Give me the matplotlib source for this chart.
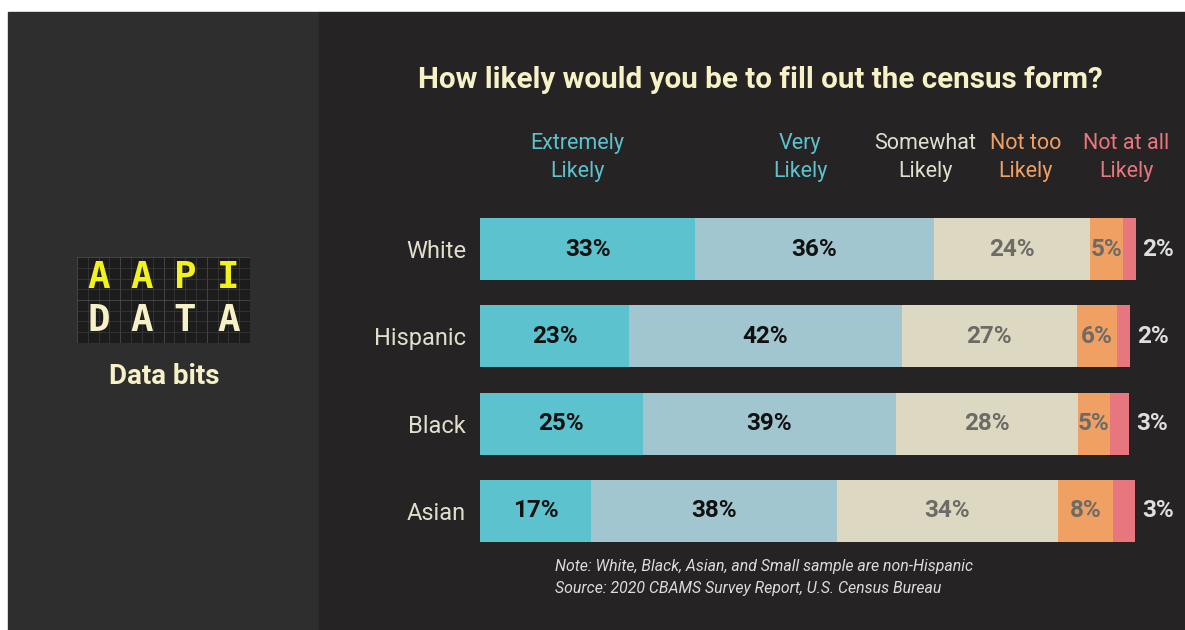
import numpy as np
import matplotlib.pyplot as plt
from matplotlib.patches import Rectangle

plt.rcParams['font.family'] = ['Roboto', 'DejaVu Sans']

groups = ['White', 'Hispanic', 'Black', 'Asian']
levels = ['Extremely\nLikely', 'Very\nLikely', 'Somewhat\nLikely', 'Not too\nLikely', 'Not at all\nLikely']
extremely = [32.8, 22.7, 24.8, 16.9]
very = [36.4, 41.6, 38.6, 37.5]
somewhat = [23.8, 26.7, 27.7, 33.7]
not_too = [5.0, 6.1, 4.9, 8.4]
not_at_all = [2.0, 2.0, 3.0, 3.4]
series = [extremely, very, somewhat, not_too, not_at_all]

colors = ['#5cc3ce', '#a2c6cf', '#ddd8c1', '#f1a064', '#e8767e']
head_colors = ['#5cc3ce', '#5cc3ce', '#e2dece', '#f1a064', '#e8767e']
lab_colors = ['#111111', '#111111', '#6d6b66', '#6d6b66', '#dedede']
head_x = [14.9, 48.8, 67.9, 83.2, 98.5]

W, H = 1185, 630
fig = plt.figure(figsize=(W / 100, H / 100), dpi=100, facecolor='white')

# background panels
fig.patches.append(Rectangle((8 / W, 0), (319 - 8) / W, 1 - 12 / H,
                             transform=fig.transFigure, color='#2f2e2f', zorder=-10))
fig.patches.append(Rectangle((319 / W, 0), 1 - 319 / W, 1 - 12 / H,
                             transform=fig.transFigure, color='#252324', zorder=-10))

# bar chart
ax = fig.add_axes([480 / W, 1 - 554.6 / H, 656 / W, 349.2 / H])
ax.set_facecolor('none')
y = np.arange(len(groups))
left = np.zeros(len(groups))
for k, vals in enumerate(series):
    vals = np.array(vals)
    ax.barh(y, vals, left=left, height=0.71, color=colors[k], linewidth=0)
    for i, v in enumerate(vals):
        if k < 4:
            ax.text(left[i] + v / 2, y[i], f'{v:.0f}%', ha='center', va='center',
                    fontsize=17.5, fontweight='bold', color=lab_colors[k])
        else:
            ax.text(left[i] + v + 1.0, y[i], f'{v:.0f}%', ha='left', va='center',
                    fontsize=17.5, fontweight='bold', color=lab_colors[k])
    left += vals
ax.set_xlim(0, 100)
ax.set_ylim(len(groups) - 0.5, -0.5)
for s in ax.spines.values():
    s.set_visible(False)
ax.set_xticks([])
ax.set_yticks(y)
ax.set_yticklabels(groups, fontsize=17, color='#e2dece')
ax.tick_params(axis='y', length=0, pad=10)

# column headers
for k, lab in enumerate(levels):
    ax.text(head_x[k], -0.77, lab, ha='center', va='bottom', fontsize=15.5,
            color=head_colors[k], linespacing=1.4)

fig.text(760 / W, 1 - 80 / H, 'How likely would you be to fill out the census form?',
         ha='center', va='center', fontsize=21.3, fontweight='bold', color='#f6f1c6')

fig.text(555 / W, 1 - 566 / H, 'Note: White, Black, Asian, and Small sample are non-Hispanic',
         ha='left', va='center', fontsize=11.4, style='italic', color='#dcdcdc')
fig.text(555 / W, 1 - 589 / H, 'Source: 2020 CBAMS Survey Report, U.S. Census Bureau',
         ha='left', va='center', fontsize=11.4, style='italic', color='#dcdcdc')

# logo
lax = fig.add_axes([77 / W, 1 - 343 / H, 173 / W, 86 / H])
lax.set_facecolor('#1c1c1c')
lax.set_xlim(0, 4)
lax.set_ylim(0, 2)
for v in np.arange(0, 4.01, 0.25):
    lax.axvline(v, color='#3c3c3c' if v % 1 else '#555555', lw=0.5)
for v in np.arange(0, 2.01, 0.25):
    lax.axhline(v, color='#3c3c3c' if v % 1 else '#555555', lw=0.5)
for s in lax.spines.values():
    s.set_visible(False)
lax.set_xticks([])
lax.set_yticks([])
for i, ch in enumerate('AAPI'):
    lax.text(i + 0.5, 1.5, ch, ha='center', va='center', fontsize=27, fontweight='bold',
             color='#f2f21c', family='DejaVu Sans Mono')
for i, ch in enumerate('DATA'):
    lax.text(i + 0.5, 0.5, ch, ha='center', va='center', fontsize=27, fontweight='bold',
             color='#f6f1c6', family='DejaVu Sans Mono')
fig.text(164 / W, 1 - 377 / H, 'Data bits', ha='center', va='center', fontsize=20,
         fontweight='bold', color='#f6f1c6')

fig.savefig('out.png', dpi=100, facecolor='white')
